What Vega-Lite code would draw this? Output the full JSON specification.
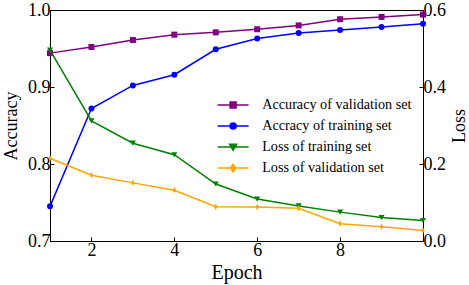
{
  "$schema": "https://vega.github.io/schema/vega-lite/v6.json",
  "width": 373,
  "height": 231,
  "autosize": {"type": "none"},
  "padding": {"left": 50, "top": 10, "right": 46, "bottom": 44},
  "background": "white",
  "config": {
    "view": {"stroke": "black", "strokeWidth": 1},
    "font": "Liberation Serif",
    "axis": {
      "grid": false,
      "domainColor": "black",
      "domainWidth": 1,
      "tickColor": "black",
      "tickSize": -4,
      "tickWidth": 1,
      "labelColor": "black",
      "labelFont": "Liberation Serif",
      "labelFontSize": 18,
      "labelPadding": 4,
      "titleColor": "black",
      "titleFont": "Liberation Serif",
      "titleFontSize": 18,
      "titleFontWeight": "normal"
    }
  },
  "data": {
    "values": [
      {"epoch": 1, "series": "Accuracy of validation set", "metric": "acc", "value": 0.944},
      {"epoch": 2, "series": "Accuracy of validation set", "metric": "acc", "value": 0.952},
      {"epoch": 3, "series": "Accuracy of validation set", "metric": "acc", "value": 0.961},
      {"epoch": 4, "series": "Accuracy of validation set", "metric": "acc", "value": 0.968},
      {"epoch": 5, "series": "Accuracy of validation set", "metric": "acc", "value": 0.971},
      {"epoch": 6, "series": "Accuracy of validation set", "metric": "acc", "value": 0.975},
      {"epoch": 7, "series": "Accuracy of validation set", "metric": "acc", "value": 0.980},
      {"epoch": 8, "series": "Accuracy of validation set", "metric": "acc", "value": 0.988},
      {"epoch": 9, "series": "Accuracy of validation set", "metric": "acc", "value": 0.991},
      {"epoch": 10, "series": "Accuracy of validation set", "metric": "acc", "value": 0.994},
      {"epoch": 1, "series": "Accracy of training set", "metric": "acc", "value": 0.745},
      {"epoch": 2, "series": "Accracy of training set", "metric": "acc", "value": 0.872},
      {"epoch": 3, "series": "Accracy of training set", "metric": "acc", "value": 0.902},
      {"epoch": 4, "series": "Accracy of training set", "metric": "acc", "value": 0.916},
      {"epoch": 5, "series": "Accracy of training set", "metric": "acc", "value": 0.949},
      {"epoch": 6, "series": "Accracy of training set", "metric": "acc", "value": 0.963},
      {"epoch": 7, "series": "Accracy of training set", "metric": "acc", "value": 0.970},
      {"epoch": 8, "series": "Accracy of training set", "metric": "acc", "value": 0.974},
      {"epoch": 9, "series": "Accracy of training set", "metric": "acc", "value": 0.978},
      {"epoch": 10, "series": "Accracy of training set", "metric": "acc", "value": 0.982},
      {"epoch": 1, "series": "Loss of training set", "metric": "loss", "value": 0.496},
      {"epoch": 2, "series": "Loss of training set", "metric": "loss", "value": 0.312},
      {"epoch": 3, "series": "Loss of training set", "metric": "loss", "value": 0.254},
      {"epoch": 4, "series": "Loss of training set", "metric": "loss", "value": 0.224},
      {"epoch": 5, "series": "Loss of training set", "metric": "loss", "value": 0.148},
      {"epoch": 6, "series": "Loss of training set", "metric": "loss", "value": 0.109},
      {"epoch": 7, "series": "Loss of training set", "metric": "loss", "value": 0.091},
      {"epoch": 8, "series": "Loss of training set", "metric": "loss", "value": 0.075},
      {"epoch": 9, "series": "Loss of training set", "metric": "loss", "value": 0.061},
      {"epoch": 10, "series": "Loss of training set", "metric": "loss", "value": 0.053},
      {"epoch": 1, "series": "Loss of validation set", "metric": "loss", "value": 0.215},
      {"epoch": 2, "series": "Loss of validation set", "metric": "loss", "value": 0.171},
      {"epoch": 3, "series": "Loss of validation set", "metric": "loss", "value": 0.151},
      {"epoch": 4, "series": "Loss of validation set", "metric": "loss", "value": 0.132},
      {"epoch": 5, "series": "Loss of validation set", "metric": "loss", "value": 0.089},
      {"epoch": 6, "series": "Loss of validation set", "metric": "loss", "value": 0.088},
      {"epoch": 7, "series": "Loss of validation set", "metric": "loss", "value": 0.085},
      {"epoch": 8, "series": "Loss of validation set", "metric": "loss", "value": 0.045},
      {"epoch": 9, "series": "Loss of validation set", "metric": "loss", "value": 0.037},
      {"epoch": 10, "series": "Loss of validation set", "metric": "loss", "value": 0.027}
    ]
  },
  "encoding": {
    "x": {
      "field": "epoch",
      "type": "quantitative",
      "scale": {"domain": [1, 10], "nice": false, "zero": false},
      "axis": {"values": [2, 4, 6, 8], "title": "Epoch", "titleFontSize": 20, "titlePadding": 3, "labelFlush": false, "labelFont": "Liberation Serif", "labelFontSize": 18}
    },
    "color": {
      "field": "series",
      "type": "nominal",
      "scale": {
        "domain": ["Accuracy of validation set", "Accracy of training set", "Loss of training set", "Loss of validation set"],
        "range": ["#800080", "#0000ff", "#008000", "#ffa500"]
      },
      "legend": {
        "title": null,
        "orient": "none",
        "legendX": 176,
        "legendY": 88,
        "padding": 0,
        "symbolSize": 100,
        "symbolStrokeWidth": 1.5,
        "labelOffset": 22,
        "rowPadding": 6,
        "labelFont": "Liberation Serif",
        "labelFontSize": 14.2,
        "labelColor": "black",
        "encode": {
          "symbols": {
            "update": {
              "shape": {"signal": "datum.value === 'Accuracy of validation set' ? 'M-3.1,0H3.1M-0.6,-0.6H0.6V0.6H-0.6Z' : datum.value === 'Accracy of training set' ? 'M-3.1,0H3.1M0.6,0A0.6,0.6,0,1,1,-0.6,0A0.6,0.6,0,1,1,0.6,0Z' : datum.value === 'Loss of training set' ? 'M-3.1,0H3.1M-0.7,-0.55L0.7,-0.55L0,0.65Z' : 'M-3.1,0H3.1M0,-0.75L0.5,0L0,0.75L-0.5,0Z'"},
              "fill": {"signal": "scale('color', datum.value)"},
              "stroke": {"signal": "scale('color', datum.value)"},
              "fillOpacity": {"value": 1},
              "opacity": {"value": 1}
            }
          }
        }
      }
    }
  },
  "layer": [
    {
      "transform": [{"filter": "datum.metric === 'acc'"}],
      "encoding": {
        "y": {
          "field": "value",
          "type": "quantitative",
          "scale": {"domain": [0.7, 1.0], "nice": false, "zero": false},
          "axis": {"values": [0.7, 0.8, 0.9, 1.0], "format": ".1f", "title": "Accuracy", "titlePadding": 7, "labelFlush": false, "labelFont": "Liberation Serif", "labelFontSize": 18}
        }
      },
      "layer": [
        {"mark": {"type": "line", "strokeWidth": 1.5}},
        {"transform": [{"filter": "datum.series === 'Accuracy of validation set'"}], "mark": {"type": "point", "shape": "square", "filled": true, "size": 36, "opacity": 1}},
        {"transform": [{"filter": "datum.series === 'Accracy of training set'"}], "mark": {"type": "point", "shape": "circle", "filled": true, "size": 36, "opacity": 1}}
      ]
    },
    {
      "transform": [{"filter": "datum.metric === 'loss'"}],
      "encoding": {
        "y": {
          "field": "value",
          "type": "quantitative",
          "scale": {"domain": [0, 0.6], "nice": false, "zero": false},
          "axis": {"orient": "right", "values": [0, 0.2, 0.4, 0.6], "format": ".1f", "title": "Loss", "titleAngle": 270, "titlePadding": 23, "labelFlush": false, "labelFont": "Liberation Serif", "labelFontSize": 18}
        }
      },
      "layer": [
        {"mark": {"type": "line", "strokeWidth": 1.5}},
        {"transform": [{"filter": "datum.series === 'Loss of training set'"}], "mark": {"type": "point", "shape": "triangle-down", "filled": true, "size": 36, "opacity": 1}},
        {"transform": [{"filter": "datum.series === 'Loss of validation set'"}], "mark": {"type": "point", "shape": "M0,-1L0.55,0L0,1L-0.55,0Z", "filled": true, "size": 40, "opacity": 1}}
      ]
    }
  ],
  "resolve": {"scale": {"y": "independent"}}
}
